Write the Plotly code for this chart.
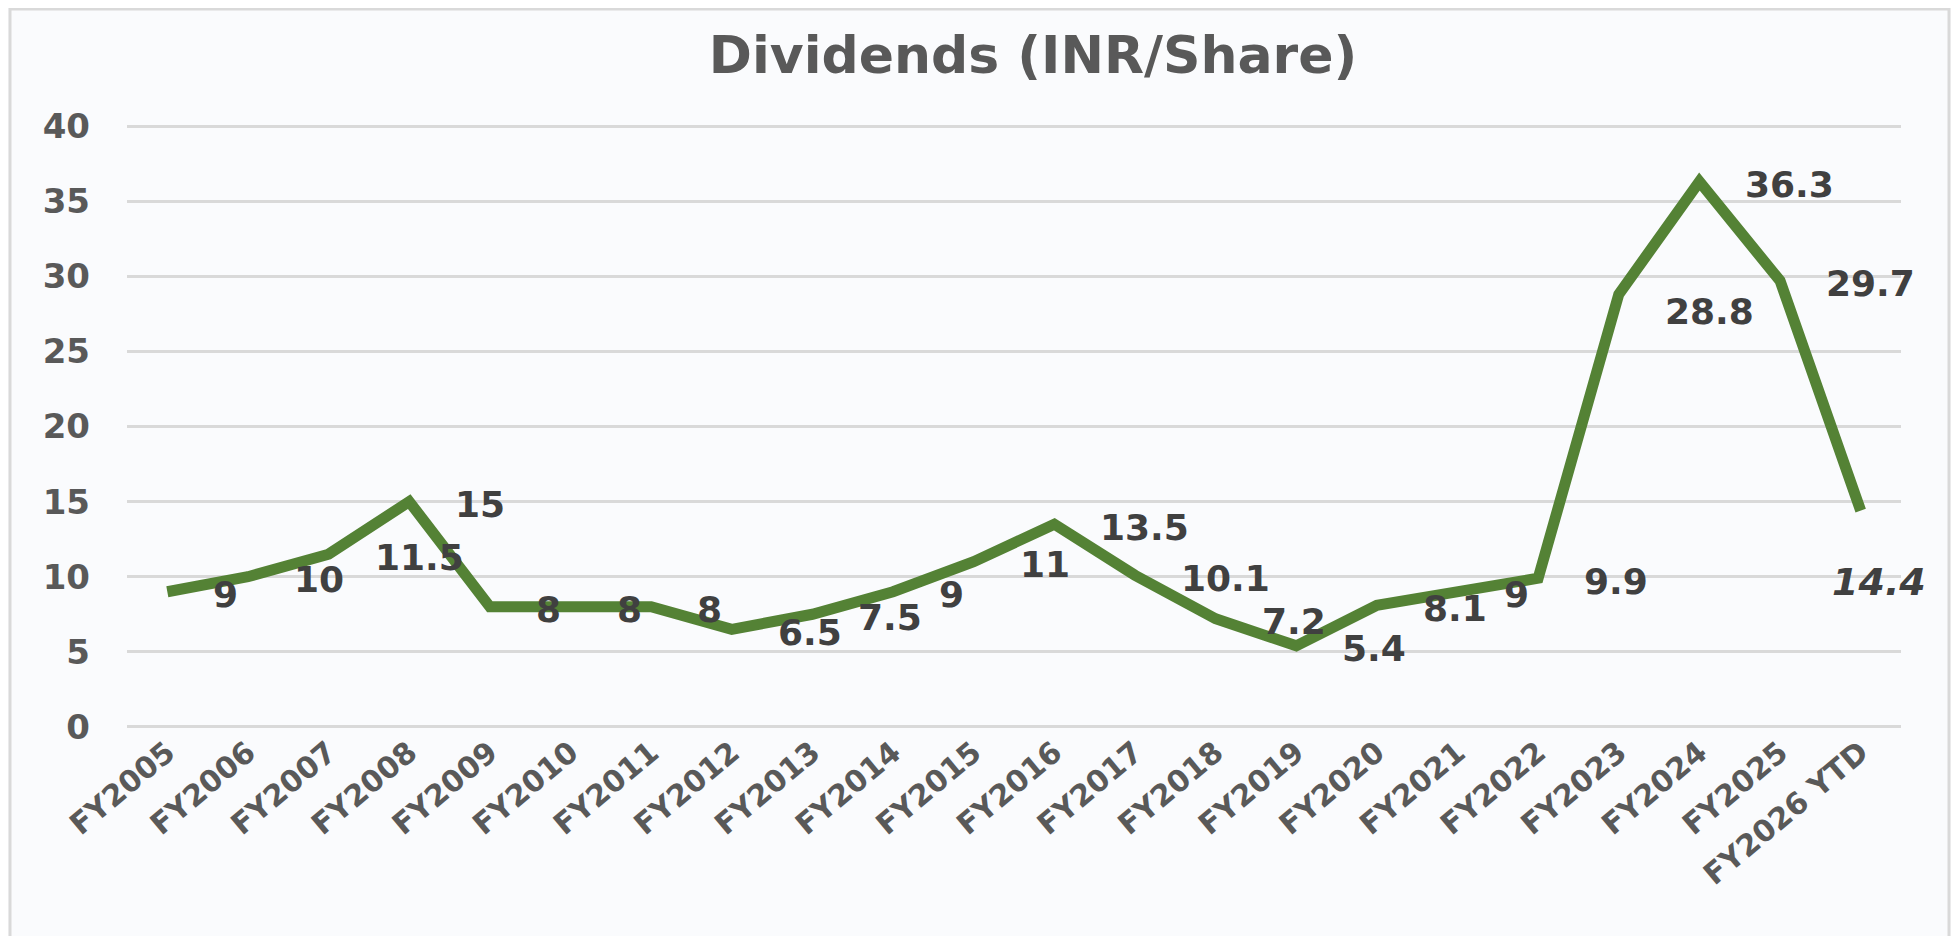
import plotly.graph_objects as go

categories = ["FY2005", "FY2006", "FY2007", "FY2008", "FY2009", "FY2010", "FY2011",
              "FY2012", "FY2013", "FY2014", "FY2015", "FY2016", "FY2017", "FY2018",
              "FY2019", "FY2020", "FY2021", "FY2022", "FY2023", "FY2024", "FY2025",
              "FY2026 YTD"]
dividends = [9, 10, 11.5, 15, 8, 8, 8, 6.5, 7.5, 9, 11, 13.5, 10.1, 7.2, 5.4, 8.1, 9,
             9.9, 28.8, 36.3, 29.7, 14.4]
label_texts = ["9", "10", "11.5", "15", "8", "8", "8", "6.5", "7.5", "9", "11", "13.5",
               "10.1", "7.2", "5.4", "8.1", "9", "9.9", "28.8", "36.3", "29.7", "14.4"]
y_ticks = [0, 5, 10, 15, 20, 25, 30, 35, 40]

# label placement nudges (pixels), keyed by category
label_nudge = {"FY2023": (0, -14)}

FONT = "DejaVu Sans"
BG = "#fafbfd"
GRID = "#d9d9d9"
LINE = "#548235"
LABEL = "#404040"
AXIS_TXT = "#595959"

# page body has an 8px margin; figure is sized/positioned to compensate
OFF = 8
W, H = 1959 - OFF, 936 - OFF
L, R, T, B = 127 - OFF, 58, 125 - OFF, 208

fig = go.Figure()
fig.add_trace(go.Scatter(
    x=categories, y=dividends, mode="lines",
    line=dict(color=LINE, width=11, shape="linear"),
    hoverinfo="x+y", showlegend=False,
))

annotations = []
n = len(categories)
for i, (c, v, t) in enumerate(zip(categories, dividends, label_texts)):
    dx, dy = label_nudge.get(c, (0, 0))
    if i == n - 1:
        annotations.append(dict(
            x=c, y=v, xref="x", yref="y", text=t, showarrow=False,
            xanchor="center", yanchor="middle", xshift=18 + dx, yshift=-71 + dy,
            font=dict(family=FONT, size=38, color=LABEL, weight="bold", style="italic"),
        ))
    else:
        annotations.append(dict(
            x=c, y=v, xref="x", yref="y", text=t, showarrow=False,
            xanchor="left", yanchor="middle", xshift=44 + dx, yshift=-3 + dy,
            font=dict(family=FONT, size=36, color=LABEL, weight="bold"),
        ))

pw = W - L - R
ph = H - T - B
fig.update_layout(
    width=W, height=H,
    margin=dict(l=L, r=R, t=T, b=B, autoexpand=False),
    paper_bgcolor=BG, plot_bgcolor=BG,
    title=dict(
        text="Dividends (INR/Share)",
        font=dict(family=FONT, size=52, color=AXIS_TXT, weight="bold"),
        x=(1033 - OFF - L) / pw, xref="paper", xanchor="center",
        y=1 - (55 - OFF) / H, yref="container", yanchor="middle",
    ),
    xaxis=dict(
        type="category", categoryorder="array", categoryarray=categories,
        range=[-0.5, n - 0.5], showgrid=False, showline=False, zeroline=False,
        ticks="", tickangle=-40,
        tickfont=dict(family=FONT, size=30, color=AXIS_TXT, weight="bold"),
    ),
    yaxis=dict(
        range=[-0.07, 40.07], tickvals=y_ticks, showgrid=True, gridcolor=GRID, gridwidth=3,
        zeroline=True, zerolinecolor=GRID, zerolinewidth=3,
        showline=False, ticks="", ticklabelstandoff=36,
        tickfont=dict(family=FONT, size=34, color=AXIS_TXT, weight="bold"),
    ),
    annotations=annotations,
    shapes=[dict(
        type="rect", xref="paper", yref="paper",
        x0=(10 - OFF - L) / pw, x1=(1949 - OFF - L) / pw,
        y0=(H - B - 960) / ph, y1=(H - B - (9 - OFF)) / ph,
        line=dict(color=GRID, width=3), fillcolor="rgba(0,0,0,0)", layer="below",
    )],
)

fig.write_html("out.html")
